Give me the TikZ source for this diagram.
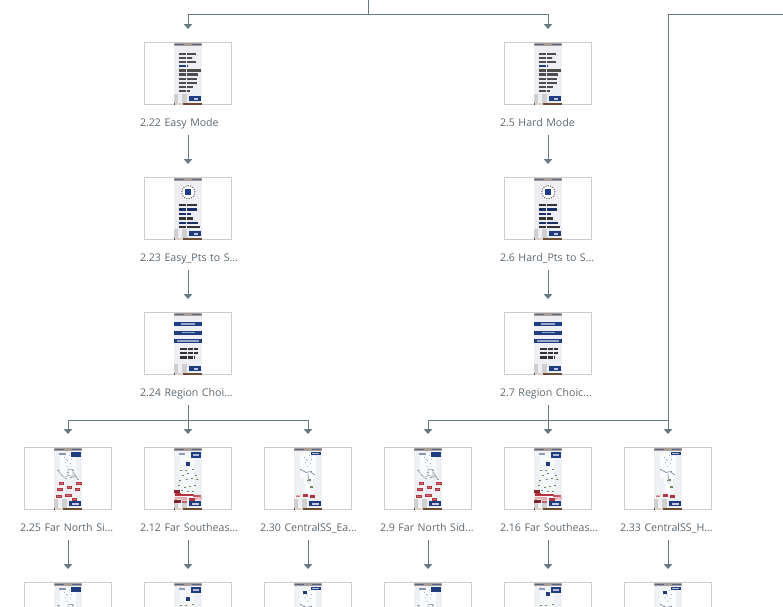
\documentclass[tikz,border=0pt]{standalone}
\usepackage{fontspec}
\setmainfont{Open Sans}
\definecolor{conn}{HTML}{677982}
\definecolor{framec}{HTML}{CDCDCD}
\definecolor{labelc}{HTML}{5C6870}
\definecolor{navy}{HTML}{1F3C80}
\definecolor{phonebg}{HTML}{EDEFF4}
\definecolor{mapbg}{HTML}{F0F1F5}
\definecolor{topbar}{HTML}{A99F98}
\definecolor{botbar}{HTML}{6D4C33}
\definecolor{figc}{HTML}{CFCFCF}
\definecolor{redc}{HTML}{B5343F}
\definecolor{pinkc}{HTML}{E6A9AE}
\definecolor{greenc}{HTML}{6F8758}
\definecolor{netc}{HTML}{A9B1BC}
\usetikzlibrary{arrows.meta}
\newcommand\captxt[1]{\makebox[96pt][l]{#1}}
\tikzset{
  thumbbox/.style={draw=framec,line width=1pt,fill=white,minimum width=87pt,minimum height=62pt,inner sep=0pt,outer sep=0pt,rectangle},
  caption/.style={text=labelc,font=\fontsize{10.6}{12}\selectfont,text width=96pt,minimum height=26pt,text height=8pt,text depth=0pt,inner sep=0pt,outer sep=0pt},
  link/.style={draw=conn,line width=1pt},
  arrowlink/.style={link,-{Triangle[width=8.5pt,length=5pt]},shorten >=13.5pt},
  wordline/.style={line width=2.3pt,dash pattern=on 7pt off .8pt on 5pt off .8pt on 9pt off .8pt},
}
\newcommand\R[5]{\fill[#5] (#1,#2) rectangle (#3,#4);}
\newcommand\phonebase[1]{%
  \R{-14}{.6}{14}{62.4}{#1}
  \R{-14}{.6}{14}{3.2}{topbar}
  \R{-13}{1.2}{-4}{2.4}{navy!60!topbar}
  \R{4}{1.2}{13}{2.4}{navy!60!topbar}
  \R{-14.2}{51.7}{-10}{60}{figc}
  \R{-5.7}{51.7}{-1}{60}{figc}
  \R{-14}{60}{14}{62.4}{botbar}
  \R{-13.5}{60.4}{-5}{62}{white!75!botbar}
  \R{1.3}{53.8}{13}{58.8}{navy}
}
\newcommand\nextmark{\R{5.5}{55.3}{9.5}{57.3}{white!70!navy}}
\newcommand\modeimg{%
  \phonebase{phonebg}\nextmark
  \foreach \y/\e/\c in {11.3/7.7/black!70,15.4/4.3/black!70,19.6/7.7/black!70,23.7/.3/navy,27.9/13.2/black!70,32/10.3/black!70,36.2/8.7/black!70,40.3/8.7/black!70,44.5/5.3/black!70,48.6/2/black!70}
    {\draw[wordline,\c] (-9.3,\y) -- (\e,\y);}
}
\newcommand\ptsimg{%
  \phonebase{phonebg}\nextmark
  \fill[white] (0.3,14.7) circle (7.6pt);
  \draw[black!55,line width=1.1pt,dash pattern=on 1.2pt off 1.2pt] (0.3,14.7) circle (6.6pt);
  \R{-2.7}{11.7}{3.3}{17.7}{navy}
  \foreach \y/\e/\c in {27.7/8.7/black!80,32/8.7/navy!80!black,36.7/3/navy!80!black,41/5.3/black!80,45.3/10.3/navy!80!black,49.7/12/black!80}
    {\draw[wordline,\c] (-9.3,\y) -- (\e,\y);}
}
\newcommand\regionimg{%
  \phonebase{phonebg}\nextmark
  \foreach \a/\b/\e in {9/13.7/7,18/22.3/6.5,26.3/30.7/11}{
    \R{-13.8}{\a}{13.8}{\b}{navy}
    \R{-\e}{\a+1.4}{\e}{\b-1.4}{white!55!navy}
  }
  \foreach \y/\e in {36.3/10,40.7/10,45/7}{\draw[wordline,black!80] (-8,\y) -- (\e,\y);}
}
\newcommand\maptop{%
  \R{-8}{5}{8}{30}{white!70!mapbg}
  \foreach \x/\y in {-4/9,-1/12,1/7,-3/14,2/15,-1/18,-2/11,3/11}{\R{\x}{\y}{\x+1.4}{\y+1}{netc}}
}
\newcommand\btnlabel{\R{3.5}{55.5}{11}{57.2}{white!75!navy}}
\newcommand\farnorthimg[1]{%
  \phonebase{mapbg}\btnlabel\maptop
  \R{#1}{4.7}{12.7}{9}{navy}
  \R{-9.5}{5.5}{-2}{7.8}{navy!55}
  \draw[netc,line width=.7pt] (-11,22)--(-4,30)--(1,28)--(8,30) (0,28)--(0,22)--(5,22)--(5,30) (5,24)--(10,32);
  \foreach \x/\y in {-10/22,-7/27,-3/30,2/29,6/27,9/31,4/22,-1/24}{\R{\x}{\y}{\x+1.6}{\y+1.2}{black!35}}
  \foreach \x/\y/\w in {-9.5/34.3/5.3,8/34.3/6,-1/38.3/5.3,-11/40.7/6,6.5/40.7/5.3,-3/46/7,-12/47.3/5.5,3.5/50/5.5}
    {\R{\x}{\y}{\x+\w}{\y+3}{redc}\R{\x+1}{\y+1.1}{\x+\w-1}{\y+1.9}{white!30!redc}}
}
\newcommand\farsouthimg[1]{%
  \phonebase{mapbg}\btnlabel
  \R{-8}{5}{6}{50}{white!55!mapbg}
  \R{3}{4.7}{12.7}{10.7}{navy}
  \R{5}{6.5}{10.5}{8.5}{white!65!navy}
  \R{-2.5}{#1}{1.5}{#1+4.3}{navy}
  \R{-9}{5.5}{-3}{7.5}{navy!50}
  \foreach \x/\y in {-8/22,-3/22,4/21,7/27,-1/25,-6/27,-9/32,-2/31,3/30,8/31,-10/37,-4/39,1/38,6/37,-7/42,-1/43,4/43}
    {\R{\x}{\y}{\x+1.8}{\y+1.6}{greenc}}
  \foreach \x/\y/\w/\c in {-13.8/42.5/6/redc!75!black,-13/45.5/6/redc,-7.5/46/6/redc,-1/46/6.5/redc,4.5/47/8/redc!80,-13.5/49/6/pinkc,-7/49.5/6/pinkc,1/50.5/5.5/redc,7/49.5/7/pinkc!80,-13.8/52.5/7/redc!70!black,-6/53/5/redc!80}
    {\R{\x}{\y}{\x+\w}{\y+2.8}{\c}}
}
\newcommand\centralimg[2]{%
  \phonebase{mapbg}\btnlabel\maptop
  \R{2.7}{4.7}{12.7}{7.7}{navy}
  \R{4}{5.7}{11.4}{6.7}{white!70!navy}
  \fill[white] (-5,24)--(5,26)--(5,46)--(-2,46)--cycle;
  \draw[navy!60,line width=.6pt] (-7,22)--(-2,25)--(2,24)--(6,27) (0,26)--(1,36);
  \foreach \x/\y in {-8/21,-4/23,3/23,6/26,-1/32}{\R{\x}{\y}{\x+1.2}{\y+1}{black!50}}
  \R{.5}{31}{3}{33}{greenc}
  \R{2}{38}{4.8}{40.5}{greenc}
  \R{-12}{47}{-8}{49}{pinkc}\R{-12}{48}{-8}{49}{redc!70}
  \R{-5}{46.2}{0}{49}{redc}
  \R{2}{47}{7}{50}{redc}
  \ifx\relax#1\relax\else \R{#1}{#2}{#1+4}{#2+3.5}{navy}\fi
}
\newcommand\imgon[2]{\begin{scope}[shift={(#1.north)}]#2\end{scope}}
\begin{document}
\begin{tikzpicture}[x=1pt,y=-1pt]
\useasboundingbox (0,0) rectangle (783,606);
\clip (0,0) rectangle (783,606);
% row 1-3 boxes
\node[thumbbox] (a1) at (188,73.5) {};
\node[caption]  (la1) at (188,122) {\captxt{2.22 Easy Mode}};
\node[thumbbox] (a2) at (188,208.5) {};
\node[caption]  (la2) at (188,257) {\captxt{2.23 Easy\_Pts to S...}};
\node[thumbbox] (a3) at (188,343.5) {};
\node[caption]  (la3) at (188,392) {\captxt{2.24 Region Choi...}};
\node[thumbbox] (b1) at (548,73.5) {};
\node[caption]  (lb1) at (548,122) {\captxt{2.5 Hard Mode}};
\node[thumbbox] (b2) at (548,208.5) {};
\node[caption]  (lb2) at (548,257) {\captxt{2.6 Hard\_Pts to S...}};
\node[thumbbox] (b3) at (548,343.5) {};
\node[caption]  (lb3) at (548,392) {\captxt{2.7 Region Choic...}};
% row 4
\node[thumbbox] (c1) at (68,478.5) {};
\node[caption]  (lc1) at (68,527) {\captxt{2.25 Far North Si...}};
\node[thumbbox] (c2) at (188,478.5) {};
\node[caption]  (lc2) at (188,527) {\captxt{2.12 Far Southeas...}};
\node[thumbbox] (c3) at (308,478.5) {};
\node[caption]  (lc3) at (308,527) {\captxt{2.30 CentralSS\_Ea...}};
\node[thumbbox] (c4) at (428,478.5) {};
\node[caption]  (lc4) at (428,527) {\captxt{2.9 Far North Sid...}};
\node[thumbbox] (c5) at (548,478.5) {};
\node[caption]  (lc5) at (548,527) {\captxt{2.16 Far Southeas...}};
\node[thumbbox] (c6) at (668,478.5) {};
\node[caption]  (lc6) at (668,527) {\captxt{2.33 CentralSS\_H...}};
% row 5, cut by the edge
\node[thumbbox] (d1) at (68,613.5) {};
\node[thumbbox] (d2) at (188,613.5) {};
\node[thumbbox] (d3) at (308,613.5) {};
\node[thumbbox] (d4) at (428,613.5) {};
\node[thumbbox] (d5) at (548,613.5) {};
\node[thumbbox] (d6) at (668,613.5) {};
% thumbnails
\imgon{a1}{\modeimg}\imgon{b1}{\modeimg}
\imgon{a2}{\ptsimg}\imgon{b2}{\ptsimg}
\imgon{a3}{\regionimg}\imgon{b3}{\regionimg}
\imgon{c1}{\farnorthimg{2.7}}\imgon{c4}{\farnorthimg{3}}
\imgon{c2}{\farsouthimg{14.5}}\imgon{c5}{\farsouthimg{14.5}}
\imgon{c3}{\centralimg{}{}}\imgon{c6}{\centralimg{}{}}
\imgon{d1}{\farnorthimg{2.7}}\imgon{d4}{\farnorthimg{3}}
\imgon{d2}{\farsouthimg{14.5}}\imgon{d5}{\farsouthimg{9}}
\imgon{d3}{\centralimg{-5}{8}}\imgon{d6}{\centralimg{-5}{8}}
% connectors
\coordinate (topin) at (368,0);
\coordinate (topj) at (368,14);
\coordinate (rightin) at (783,14);
\coordinate (ja) at (188,420);
\coordinate (jb) at (548,420);
\coordinate (jc) at (668,420);
\draw[link] (topin) -- (topj);
\draw[arrowlink] (topj) -| (a1.north);
\draw[arrowlink] (topj) -| (b1.north);
\draw[arrowlink] (rightin) -| (c6.north);
\draw[arrowlink] (la1.south) -- (a2.north);
\draw[arrowlink] (la2.south) -- (a3.north);
\draw[arrowlink] (lb1.south) -- (b2.north);
\draw[arrowlink] (lb2.south) -- (b3.north);
\draw[link] (la3.south) -- (ja);
\draw[link] (lb3.south) -- (jb);
\draw[arrowlink] (ja) -| (c1.north);
\draw[arrowlink] (ja) -- (c2.north);
\draw[arrowlink] (ja) -| (c3.north);
\draw[arrowlink] (jb) -| (c4.north);
\draw[arrowlink] (jb) -- (c5.north);
\draw[link] (jb) -- (jc);
\draw[arrowlink] (lc1.south) -- (d1.north);
\draw[arrowlink] (lc2.south) -- (d2.north);
\draw[arrowlink] (lc3.south) -- (d3.north);
\draw[arrowlink] (lc4.south) -- (d4.north);
\draw[arrowlink] (lc5.south) -- (d5.north);
\draw[arrowlink] (lc6.south) -- (d6.north);
\end{tikzpicture}
\end{document}
